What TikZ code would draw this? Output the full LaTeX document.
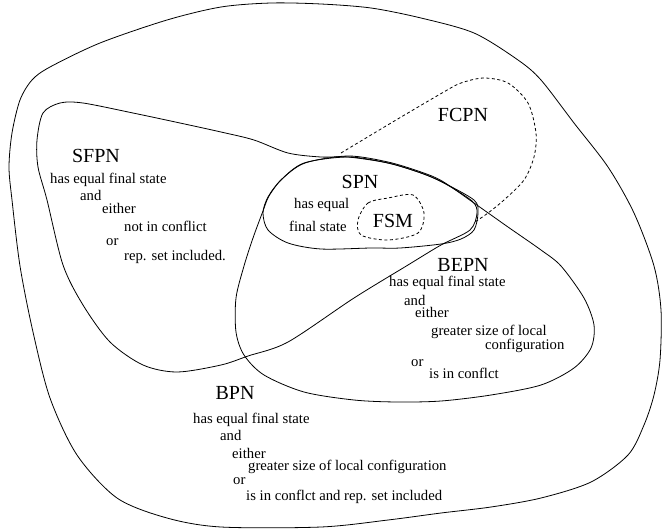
\documentclass[tikz,border=0pt]{standalone}
\usepackage{fontspec}
\setmainfont{Liberation Serif}
\begin{document}
\begin{tikzpicture}[x=1pt, y=-1pt,
  region/.style={draw, line width=0.8pt},
  dashregion/.style={draw, line width=0.8pt, dash pattern=on 3pt off 2.5pt},
  setname/.style={font=\fontsize{20}{22}\selectfont, inner sep=0pt, anchor=center},
  prop/.style={font=\fontsize{14.7}{16}\selectfont, inner sep=0pt, anchor=west, text height=10pt, text depth=3pt}]
\useasboundingbox (0,0) rectangle (662,531);

% BPN: the enclosing region
\draw[region] plot[smooth cycle] coordinates {
  (271,3) (321,4) (371,8) (421,18) (474,33) (518,60) (541,80) (574,123)
  (608,167) (634,213) (654,266) (661,310) (660,360) (654,395) (644,425)
  (628,455) (591,482) (541,498) (491,507) (441,513) (388,520) (321,527)
  (221,527) (167,518) (117,498) (77,455) (50,398) (33,332) (20,266)
  (12,200) (9,167) (12,133) (20,100) (32,80) (50,67) (100,43) (167,20) (221,7)};

% SFPN
\draw[region] plot[smooth cycle] coordinates {
  (43,113) (60,103) (83,103) (133,113) (180,123) (221,132) (254,140)
  (288,153) (321,157) (348,157) (388,163) (421,173) (444,183) (472,201)
  (477,213) (470,230) (441,245) (408,265) (354,298) (288,342) (248,356)
  (221,365) (177,372) (143,365) (110,342) (83,305) (63,265) (47,200)
  (38,167) (37,140)};

% BEPN
\draw[region] plot[smooth cycle] coordinates {
  (244,266) (253,238) (263,211) (269,196) (282,179) (305,163) (348,156)
  (388,162) (421,172) (442,181) (474,203) (508,227) (541,250) (561,266)
  (584,298) (594,325) (591,348) (574,368) (541,385) (491,395) (441,401)
  (397,402) (354,400) (304,392) (264,375) (244,355) (236,332) (236,298)};

% SPN
\draw[region] plot[smooth cycle] coordinates {
  (348,157) (388,163) (421,173) (442,182) (474,200) (478,213) (474,230)
  (461,239) (441,244) (400,248) (371,248) (321,249) (288,243) (268,230)
  (263,213) (268,197) (281,180) (304,163)};

% FCPN: dashed boundary outside SPN
\draw[dashregion] plot[smooth] coordinates {
  (341,153) (391,123) (442,93) (461,83) (484,78) (508,83) (528,103)
  (536,133) (534,157) (524,180) (504,200) (488,213) (475,222)};

% FSM
\draw[dashregion] plot[smooth cycle] coordinates {
  (358,220) (368,203) (388,198) (413,195) (424,213) (418,233) (388,240)
  (361,235)};

% set names
\node[setname] (fcpn) at (463,115) {FCPN};
\node[setname] (sfpn) at (96,156) {SFPN};
\node[setname] (spn)  at (360,182) {SPN};
\node[setname] (fsm)  at (393,221) {FSM};
\node[setname] (bepn) at (463,265) {BEPN};
\node[setname] (bpn)  at (235,393) {BPN};

% SFPN condition
\node[prop] (sf1) at (50,180)  {has equal final state};
\node[prop] (sf2) at (80,197)  {and};
\node[prop] (sf3) at (102,210) {either};
\node[prop] (sf4) at (124,228) {not in conflict};
\node[prop] (sf5) at (106,242) {or};
\node[prop] (sf6) at (124,257) {rep. set included.};

% SPN condition
\node[prop] (sp1) at (294,205) {has equal};
\node[prop] (sp2) at (289,228) {final state};

% BEPN condition
\node[prop] (be1) at (389,283) {has equal final state};
\node[prop] (be2) at (404,302) {and};
\node[prop] (be3) at (415,314) {either};
\node[prop] (be4) at (431,332) {greater size of local};
\node[prop] (be5) at (485,346) {configuration};
\node[prop] (be6) at (411,363) {or};
\node[prop] (be7) at (429,375) {is in conflct};

% BPN condition
\node[prop] (bp1) at (193,420) {has equal final state};
\node[prop] (bp2) at (220,437) {and};
\node[prop] (bp3) at (232,455) {either};
\node[prop] (bp4) at (248,467) {greater size of local configuration};
\node[prop] (bp5) at (233,481) {or};
\node[prop] (bp6) at (246,497) {is in conflct and rep. set included};
\end{tikzpicture}
\end{document}
